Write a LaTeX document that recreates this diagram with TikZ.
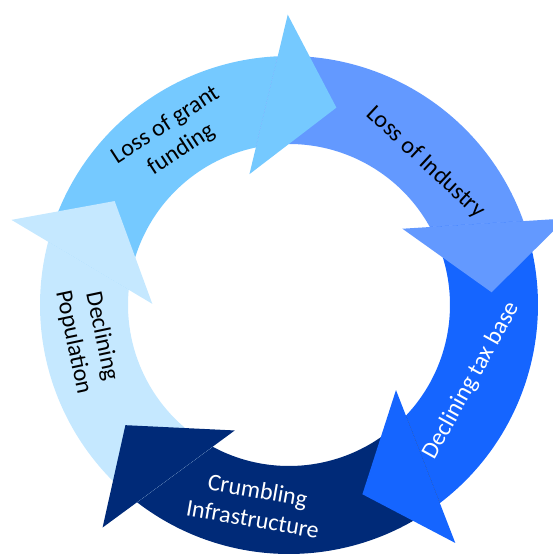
\documentclass[tikz,border=0pt]{standalone}
\usepackage{fontspec}
\setmainfont{Carlito}
\usepackage{tikz}
\usetikzlibrary{calc}

\definecolor{grantblue}{HTML}{75C9FF}
\definecolor{industryblue}{HTML}{6399FF}
\definecolor{taxblue}{HTML}{1565FF}
\definecolor{infranavy}{HTML}{002A78}
\definecolor{popblue}{HTML}{C5E8FF}

\begin{document}
\begin{tikzpicture}[
  x=1pt, y=1pt,
  every node/.style={font=\fontsize{24}{29}\selectfont, align=center, inner sep=0pt},
  segment/.style={fill=#1, draw=none},
  arrowhead/.style={fill=#1, draw=none},
  cycle text/.style={text=black},
  cycle text light/.style={text=white}
]

\useasboundingbox (-289,-250) rectangle (264,305);
\clip (-289,-250) rectangle (264,305);
\coordinate (centre) at (0,0);

% ring pieces, outer radius 249, inner radius 161
\path[segment=grantblue] (165.3:249) arc[start angle=165.3, end angle=92.6, radius=249]
  -- (101.9:161) arc[start angle=101.9, end angle=174.6, radius=161] -- cycle;
\path[segment=industryblue] (92.6:249) arc[start angle=92.6, end angle=19.7, radius=249]
  -- (29.0:161) arc[start angle=29.0, end angle=101.9, radius=161] -- cycle;
\path[segment=taxblue] (19.7:249) arc[start angle=19.7, end angle=-52.7, radius=249]
  -- (-43.4:161) arc[start angle=-43.4, end angle=29.0, radius=161] -- cycle;
\path[segment=infranavy] (-52.7:249) arc[start angle=-52.7, end angle=-127.6, radius=249]
  -- (-118.3:161) arc[start angle=-118.3, end angle=-43.4, radius=161] -- cycle;
\path[segment=popblue] (-127.6:249) arc[start angle=-127.6, end angle=-194.7, radius=249]
  -- (-185.4:161) arc[start angle=-185.4, end angle=-118.3, radius=161] -- cycle;

% heads on top
\path[arrowhead=grantblue, rotate=76.5] (203,0) -- (282,69) -- (118,69) -- cycle;
\path[arrowhead=industryblue, rotate=3.6] (203,0) -- (282,69) -- (118,69) -- cycle;
\path[arrowhead=taxblue, rotate=-68.8] (203,0) -- (282,69) -- (118,69) -- cycle;
\path[arrowhead=infranavy, rotate=-143.7] (203,0) -- (282,69) -- (118,69) -- cycle;
\path[arrowhead=popblue, rotate=-210.8] (203,0) -- (282,69) -- (118,69) -- cycle;

\node[cycle text, rotate=33] (grant) at (124.6:203.6) {Loss of grant\\funding};
\node[cycle text, rotate=-43] (industry) at (46.2:197.5) {Loss of Industry};
\node[cycle text light, rotate=61] (taxbase) at (-22.5:197.7) {Declining tax base};
\node[cycle text light, rotate=-10] (infra) at (-99.6:202.3) {Crumbling\\Infrastructure};
\node[cycle text, rotate=-78] (population) at (189.7:204.4) {Declining\\Population};

\end{tikzpicture}
\end{document}
